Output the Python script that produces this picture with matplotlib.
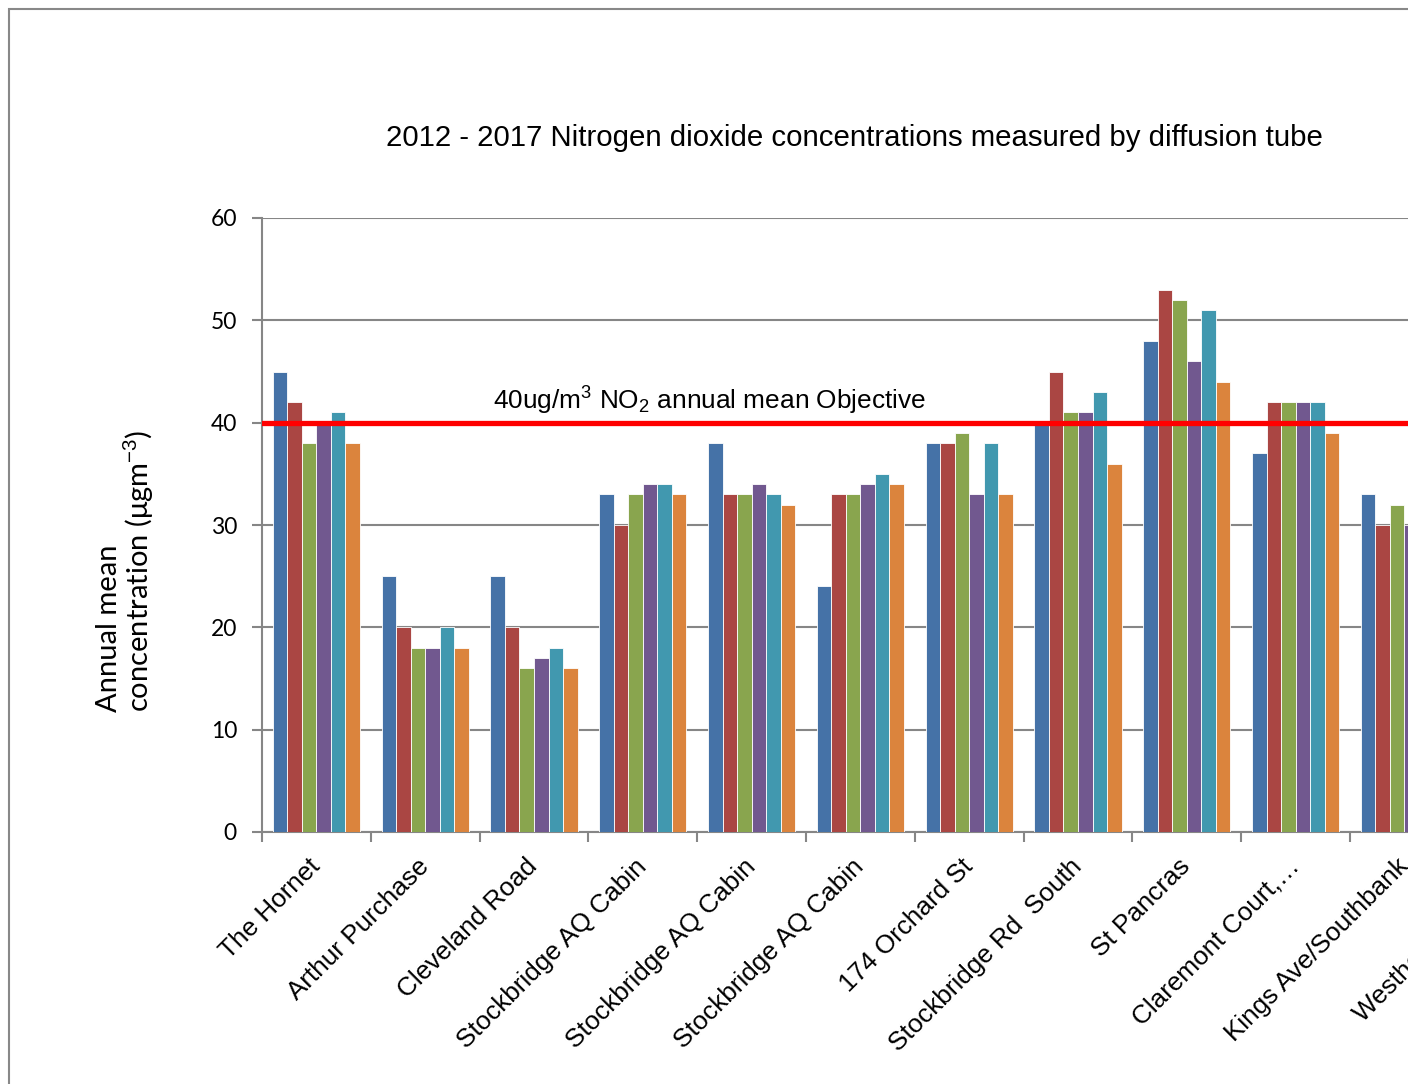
import numpy as np
import matplotlib
matplotlib.use("Agg")
import matplotlib.pyplot as plt
from matplotlib.patches import Rectangle

# =========================
# DATA
# =========================
sites = [
    "The Hornet",
    "Arthur Purchase",
    "Cleveland Road",
    "Stockbridge AQ Cabin",
    "Stockbridge AQ Cabin",
    "Stockbridge AQ Cabin",
    "174 Orchard St",
    "Stockbridge Rd  South",
    "St Pancras",
    "Claremont Court,\u2026",
    "Kings Ave/Southbank",
    "Westhorne Avenue",
]
years = ["2012", "2013", "2014", "2015", "2016", "2017"]

# one list per year; nan = bar lies beyond the cropped right edge
no2_2012 = [45, 25, 25, 33, 38, 24, 38, 40, 48, 37, 33, np.nan]
no2_2013 = [42, 20, 20, 30, 33, 33, 38, 45, 53, 42, 30, np.nan]
no2_2014 = [38, 18, 16, 33, 33, 33, 39, 41, 52, 42, 32, np.nan]
no2_2015 = [40, 18, 17, 34, 34, 34, 33, 41, 46, 42, 30, np.nan]
no2_2016 = [41, 20, 18, 34, 33, 35, 38, 43, 51, 42, np.nan, np.nan]
no2_2017 = [38, 18, 16, 33, 32, 34, 33, 36, 44, 39, np.nan, np.nan]
series = [no2_2012, no2_2013, no2_2014, no2_2015, no2_2016, no2_2017]

OBJECTIVE = 40
colors = ["#4572A7", "#AA4643", "#89A54E", "#71588F", "#4198AF", "#DB843D"]
GRAY = "#868686"

plt.rcParams["mathtext.fontset"] = "custom"
plt.rcParams["mathtext.rm"] = "Liberation Sans"
plt.rcParams["mathtext.it"] = "Liberation Sans:italic"
plt.rcParams["mathtext.bf"] = "Liberation Sans:bold"

W, H = 1408, 1084
fig = plt.figure(figsize=(W / 100, H / 100), dpi=100)

# axes runs past the right edge, like the cropped original
n = len(sites)
step = 108.8
ax = fig.add_axes([262 / W, (H - 832) / H, n * step / W, 614 / H])

x = np.arange(n)
bw = 0.8 / len(series)
for i, vals in enumerate(series):
    ax.bar(x - 0.4 + bw * (i + 0.5), vals, width=bw, color=colors[i],
           edgecolor="white", linewidth=0.6, zorder=3, label=years[i])

ax.axhline(OBJECTIVE, color="#FF0000", lw=3.8, zorder=4)
ax.text(1.62, OBJECTIVE + 0.6,
        r"40ug/m$^{\mathrm{3}}$ NO$_{\mathrm{2}}$ annual mean Objective",
        fontsize=18.9, family="Liberation Sans", ha="left", va="bottom", zorder=5)

ax.set_xlim(-0.5, n - 0.5)
ax.set_ylim(0, 60)
ax.set_yticks(np.arange(0, 61, 10))
ax.yaxis.grid(True, color=GRAY, lw=1.5, zorder=0)
ax.set_axisbelow(True)

for s in ["top", "right"]:
    ax.spines[s].set_visible(False)
for s in ["left", "bottom"]:
    ax.spines[s].set_color(GRAY)
    ax.spines[s].set_linewidth(1.5)

ax.set_xticks(x)
ax.set_xticklabels(sites, rotation=45, ha="right", va="center",
                   rotation_mode="anchor", fontsize=18.8, family="Liberation Sans")
ax.set_xticks(np.arange(n + 1) - 0.5, minor=True)
ax.tick_params(axis="x", which="major", length=0, pad=22)
ax.tick_params(axis="x", which="minor", length=7, width=1.5, color=GRAY)
ax.tick_params(axis="y", length=7, width=1.5, color=GRAY, pad=11)
for lab in ax.get_yticklabels():
    lab.set_family("Lato")
    lab.set_fontsize(16.5)

fig.text(854.5 / W, 1 - 138 / H,
         "2012 - 2017 Nitrogen dioxide concentrations measured by diffusion tube",
         ha="center", va="center", fontsize=21.2, family="Liberation Sans")

fig.text(126 / W, 1 - 712 / H,
         "Annual mean\nconcentration (\u03bcgm$^{\\mathrm{-3}}$)",
         rotation=90, ha="center", va="bottom", multialignment="left",
         fontsize=21, family="Lato", linespacing=1.0)

# outer chart frame (right and bottom edges fall outside the crop)
fig.add_artist(Rectangle((8.5 / W, -0.1), 1.5, 1.1 - 8.5 / H, transform=fig.transFigure,
                         fill=False, edgecolor="#888888", lw=1.5, clip_on=False))

fig.savefig("out.png", dpi=100)
